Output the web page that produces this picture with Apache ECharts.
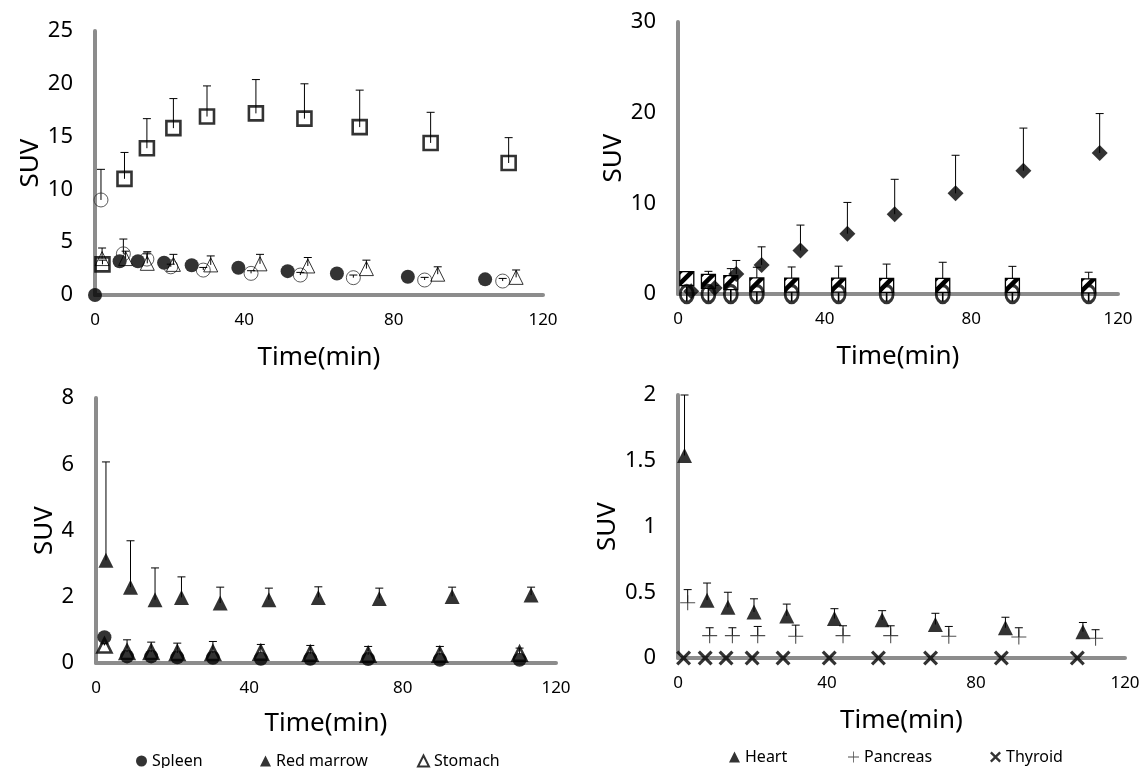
<!DOCTYPE html>
<html>
<head>
<meta charset="utf-8">
<script src="https://cdn.jsdelivr.net/npm/echarts@6/dist/echarts.min.js"></script>
<style>
html,body{margin:0;padding:0;background:#fff;}
#c{width:1143px;height:768px;}
</style>
</head>
<body>
<div id="c"></div>
<script>
// ---------- DATA ----------
const X_TICKS = [0, 40, 80, 120];

// Panel 1 (top-left)
const P1_SQ_T = [2.0, 7.9, 13.9, 21.0, 30.0, 43.1, 56.1, 70.9, 89.9, 110.8];
const P1_SQ_V = [2.9, 11.0, 13.9, 15.8, 16.9, 17.2, 16.7, 15.9, 14.4, 12.5];
const P1_SQ_E = [0.4, 2.5, 2.8, 2.8, 2.9, 3.2, 3.3, 3.5, 2.9, 2.4];
const P1_FC_T = [0, 6.6, 11.5, 18.5, 25.9, 38.4, 51.6, 64.8, 83.8, 104.5];
const P1_FC_V = [0, 3.2, 3.2, 3.05, 2.82, 2.58, 2.26, 2.03, 1.73, 1.48];
const P1_OC_T = [1.6, 7.6, 13.9, 20.3, 29.0, 41.8, 55.0, 69.2, 88.3, 109.2];
const P1_OC_V = [9.0, 3.9, 3.4, 2.67, 2.36, 2.05, 1.89, 1.64, 1.42, 1.32];
const P1_OC_E = [2.9, 1.4, 0.5, 0.25, 0.25, 0.25, 0.25, 0.25, 0.25, 0.25];
const P1_OT_T = [1.9, 8.2, 14.0, 21.0, 31.0, 44.2, 57.0, 72.7, 91.8, 112.8];
const P1_OT_V = [3.45, 3.45, 3.0, 2.9, 2.85, 2.95, 2.75, 2.5, 1.97, 1.67];
const P1_OT_E = [1.0, 0.7, 1.1, 0.95, 0.85, 0.9, 0.8, 0.8, 0.7, 0.7];

// Panel 2 (top-right)
const P2_DM_T = [3.6, 10.0, 15.9, 22.8, 33.4, 46.2, 59.1, 75.7, 94.2, 115.0];
const P2_DM_V = [0.3, 0.65, 2.2, 3.2, 4.8, 6.65, 8.8, 11.1, 13.6, 15.55];
const P2_DM_E = [0, 0.3, 1.5, 2.0, 2.8, 3.45, 3.85, 4.2, 4.7, 4.35];
const P2_SQ_T = [2.4, 8.3, 14.4, 21.5, 31.0, 43.8, 56.9, 72.2, 91.2, 112.0];
const P2_SQ_V = [1.7, 1.4, 1.25, 1.0, 0.98, 0.97, 0.95, 0.95, 0.95, 0.9];
const P2_SQ_E = [0.3, 1.1, 1.55, 1.95, 2.0, 2.1, 2.35, 2.55, 2.1, 1.5];
const P2_OC_T = [2.4, 8.3, 14.4, 21.5, 31.0, 43.8, 56.9, 72.2, 91.2, 112.0];
const P2_OC_V = [0, 0, 0, 0, 0, 0, 0, 0, 0, 0];
const P2_OC_E = [0.8, 0.8, 0.8, 0.8, 0.8, 0.8, 0.8, 0.8, 0.8, 0.8];

// Panel 3 (bottom-left)
const P3_RM_T = [2.6, 9.0, 15.4, 22.3, 32.4, 45.1, 58.0, 73.9, 92.9, 113.5];
const P3_RM_V = [3.1, 2.29, 1.91, 1.98, 1.81, 1.91, 1.98, 1.95, 2.01, 2.05];
const P3_RM_E = [2.97, 1.4, 0.96, 0.62, 0.48, 0.35, 0.32, 0.31, 0.28, 0.24];
const P3_SP_T = [2.2, 8.1, 14.4, 21.2, 30.5, 43.0, 55.9, 71.0, 89.7, 110.5];
const P3_SP_V = [0.78, 0.2, 0.2, 0.17, 0.16, 0.13, 0.13, 0.12, 0.1, 0.1];
const P3_ST_T = [2.2, 8.1, 14.4, 21.2, 30.5, 43.0, 55.9, 71.0, 89.7, 110.5];
const P3_ST_V = [0.53, 0.33, 0.33, 0.3, 0.3, 0.31, 0.28, 0.25, 0.25, 0.28];
const P3_ST_E = [0.05, 0.37, 0.3, 0.3, 0.35, 0.25, 0.25, 0.25, 0.25, 0.17];

// Panel 4 (bottom-right)
const P4_HT_T = [1.75, 7.8, 13.4, 20.4, 29.2, 42.0, 54.8, 69.1, 87.9, 108.7];
const P4_HT_V = [1.54, 0.44, 0.385, 0.35, 0.32, 0.3, 0.29, 0.255, 0.23, 0.2];
const P4_HT_E = [0.46, 0.13, 0.115, 0.1, 0.09, 0.075, 0.07, 0.085, 0.08, 0.07];
const P4_PC_T = [2.6, 8.5, 14.6, 21.4, 31.6, 44.3, 57.1, 72.7, 91.5, 112.1];
const P4_PC_V = [0.42, 0.17, 0.17, 0.17, 0.165, 0.17, 0.17, 0.165, 0.16, 0.15];
const P4_PC_E = [0.1, 0.06, 0.06, 0.07, 0.085, 0.075, 0.075, 0.075, 0.07, 0.065];
const P4_TY_T = [1.5, 7.3, 12.9, 19.9, 28.2, 40.6, 53.8, 67.8, 86.8, 107.2];
const P4_TY_V = [0, 0, 0, 0, 0, 0, 0, 0, 0, 0];

const Y_MAX = [25, 30, 8, 2];
const Y_INT = [5, 10, 2, 0.5];

// ---------- STYLE / HELPERS ----------
const FONT = '"Noto Sans", "Open Sans", sans-serif';
const GRAY = '#8c8c8c';
const NONE = 'rgba(0,0,0,0)';
const PLUS = 'path://M0,6.5 L14,6.5 L14,7.5 L0,7.5 Z M6.5,0 L7.5,0 L7.5,14 L6.5,14 Z';
const CROSS = 'path://M0,2.1 L2.1,0 L7,4.9 L11.9,0 L14,2.1 L9.1,7 L14,11.9 L11.9,14 L7,9.1 L2.1,14 L0,11.9 L4.9,7 Z';

function zip3(T, V, E) { return T.map((t, i) => [t, V[i], E ? E[i] : 0]); }

function errBars(gi, T, V, E, capW, both) {
  return {
    type: 'custom', xAxisIndex: gi, yAxisIndex: gi, silent: true, z: 1,
    encode: { x: 0, y: 1 },
    renderItem: function (params, api) {
      const x = api.value(0), y = api.value(1), e = api.value(2);
      if (!e) return null;
      const p0 = api.coord([x, both ? y - e : y]);
      const p1 = api.coord([x, y + e]);
      const ch = [{ type: 'line', shape: { x1: p0[0], y1: p0[1], x2: p1[0], y2: p1[1] },
                    style: { stroke: '#000', lineWidth: both ? 1.6 : 1 } }];
      if (capW > 0) ch.push({ type: 'line', shape: { x1: p1[0] - capW / 2, y1: p1[1], x2: p1[0] + capW / 2, y2: p1[1] },
                    style: { stroke: '#000', lineWidth: 1 } });
      return { type: 'group', children: ch };
    },
    data: zip3(T, V, E)
  };
}

function sc(name, gi, T, V, symbol, size, style, z) {
  return { type: 'scatter', name: name, xAxisIndex: gi, yAxisIndex: gi, silent: true, z: z || 3,
    data: T.map((t, i) => [t, V[i]]), symbol: symbol, symbolSize: size, itemStyle: style };
}

function hatchSquares(name, gi, T, V) {
  return {
    type: 'custom', name: name, xAxisIndex: gi, yAxisIndex: gi, silent: true, z: 2,
    encode: { x: 0, y: 1 },
    renderItem: function (params, api) {
      const p = api.coord([api.value(0), api.value(1)]);
      const h = 7, cx = p[0], cy = p[1];
      return { type: 'group', children: [
        { type: 'rect', shape: { x: cx - h, y: cy - h, width: 2 * h, height: 2 * h },
          style: { fill: '#fff', stroke: '#000', lineWidth: 1.3 } },
        { type: 'polygon', shape: { points: [[cx - h, cy + h], [cx - h, cy + h - 5], [cx + h - 5, cy - h], [cx + h, cy - h], [cx + h, cy - h + 1.5], [cx - h + 1.5, cy + h]] },
          style: { fill: '#000' } },
        { type: 'polygon', shape: { points: [[cx - h, cy - h], [cx - h, cy - h + 3.5], [cx - h + 3.5, cy - h]] },
          style: { fill: '#000' } }
      ] };
    },
    data: T.map((t, i) => [t, V[i]])
  };
}

const GRIDS = [
  { left: 95, top: 31, width: 448, height: 264 },
  { left: 678, top: 22, width: 440, height: 272 },
  { left: 96, top: 398, width: 460, height: 265 },
  { left: 678, top: 395, width: 447, height: 263 }
];
const Y_NAMEGAP = [37, 50, 37, 47];
const X_NAMEGAP = [50, 50, 48, 50];

const xAxes = GRIDS.map((g, i) => ({
  type: 'value', gridIndex: i, min: X_TICKS[0], max: X_TICKS[X_TICKS.length - 1],
  interval: X_TICKS[1] - X_TICKS[0],
  axisLine: { show: true, onZero: false, lineStyle: { color: GRAY, width: 4 } },
  axisTick: { show: false }, splitLine: { show: false },
  axisLabel: { color: '#000', fontSize: 17, fontFamily: FONT, margin: 17 },
  name: 'Time(min)', nameLocation: 'middle', nameGap: X_NAMEGAP[i],
  nameTextStyle: { color: '#000', fontSize: 26, fontFamily: FONT }
}));
const yAxes = GRIDS.map((g, i) => ({
  type: 'value', gridIndex: i, min: 0, max: Y_MAX[i], interval: Y_INT[i],
  axisLine: { show: true, onZero: false, lineStyle: { color: GRAY, width: 4 } },
  axisTick: { show: false }, splitLine: { show: false },
  axisLabel: { color: '#000', fontSize: 22, fontFamily: FONT, margin: 22 },
  name: 'SUV', nameLocation: 'middle', nameGap: Y_NAMEGAP[i], nameRotate: 90,
  nameTextStyle: { color: '#000', fontSize: 26, fontFamily: FONT }
}));

const series = [
  // panel 1
  errBars(0, P1_SQ_T, P1_SQ_V, P1_SQ_E, 8),
  errBars(0, P1_OC_T, P1_OC_V, P1_OC_E, 8),
  errBars(0, P1_OT_T, P1_OT_V, P1_OT_E, 8),
  sc('P1 square', 0, P1_SQ_T, P1_SQ_V, 'rect', 14, { color: NONE, borderColor: '#000', borderWidth: 2.6 }),
  sc('P1 filled circle', 0, P1_FC_T, P1_FC_V, 'circle', 14, { color: '#000' }),
  sc('P1 open circle', 0, P1_OC_T, P1_OC_V, 'circle', 14, { color: NONE, borderColor: '#333', borderWidth: 1 }),
  sc('P1 open triangle', 0, P1_OT_T, P1_OT_V, 'triangle', 14, { color: NONE, borderColor: '#000', borderWidth: 1 }),
  // panel 2
  errBars(1, P2_DM_T, P2_DM_V, P2_DM_E, 8),
  errBars(1, P2_SQ_T, P2_SQ_V, P2_SQ_E, 8),
  hatchSquares('P2 hatched square', 1, P2_SQ_T, P2_SQ_V),
  sc('P2 diamond', 1, P2_DM_T, P2_DM_V, 'diamond', 16, { color: '#000' }, 4),
  errBars(1, P2_OC_T, P2_OC_V, P2_OC_E, 0, true),
  sc('P2 open circle', 1, P2_OC_T, P2_OC_V, 'circle', [13, 17], { color: NONE, borderColor: '#000', borderWidth: 3.2 }, 5),
  // panel 3
  errBars(2, P3_RM_T, P3_RM_V, P3_RM_E, 8),
  errBars(2, P3_ST_T, P3_ST_V, P3_ST_E, 8),
  sc('Spleen', 2, P3_SP_T, P3_SP_V, 'circle', 14, { color: '#000' }),
  sc('Red marrow', 2, P3_RM_T, P3_RM_V, 'triangle', 15, { color: '#000' }),
  sc('Stomach', 2, P3_ST_T, P3_ST_V, 'triangle', 14, { color: NONE, borderColor: '#000', borderWidth: 2.6 }),
  // panel 4
  errBars(3, P4_HT_T, P4_HT_V, P4_HT_E, 8),
  errBars(3, P4_PC_T, P4_PC_V, P4_PC_E, 8),
  sc('Heart', 3, P4_HT_T, P4_HT_V, 'triangle', 15, { color: '#000' }),
  sc('Pancreas', 3, P4_PC_T, P4_PC_V, PLUS, 15, { color: '#222' }),
  sc('Thyroid', 3, P4_TY_T, P4_TY_V, CROSS, 15, { color: '#000' })
];

function leg(name, left, top, icon, style) {
  return { data: [{ name: name, icon: icon, itemStyle: style }], left: left, top: top,
    itemWidth: 11, itemHeight: 11, selectedMode: false, padding: 0,
    textStyle: { color: '#000', fontSize: 16, fontFamily: FONT } };
}
const legends = [
  leg('Spleen', 136, 753, 'circle', { color: '#000' }),
  leg('Red marrow', 260, 753, 'triangle', { color: '#000' }),
  leg('Stomach', 417, 753, 'triangle', { color: '#fff', borderColor: '#000', borderWidth: 2 }),
  leg('Heart', 729, 749, 'triangle', { color: '#000' }),
  leg('Pancreas', 848, 749, PLUS, { color: '#222' }),
  leg('Thyroid', 990, 749, CROSS, { color: '#000' })
];

const chart = echarts.init(document.getElementById('c'), null, { renderer: 'canvas' });
chart.setOption({
  backgroundColor: '#fff',
  animation: false,
  grid: GRIDS,
  xAxis: xAxes,
  yAxis: yAxes,
  legend: legends,
  series: series
});
</script>
</body>
</html>
